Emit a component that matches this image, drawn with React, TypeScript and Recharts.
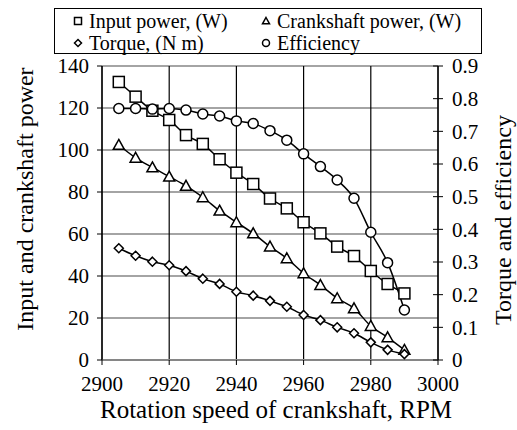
import React from "react";
import { CartesianGrid, Label, Line, LineChart, XAxis, YAxis } from "recharts";

// rotation speed of crankshaft, RPM
const rpm = [2905, 2910, 2915, 2920, 2925, 2930, 2935, 2940, 2945, 2950, 2955, 2960, 2965, 2970, 2975, 2980, 2985, 2990];
// left axis, W
const inputPower = [132.4, 125.4, 118.7, 114.3, 107.1, 102.9, 95.6, 89.2, 83.8, 76.9, 72.2, 65.6, 60.3, 54.0, 49.5, 42.4, 36.2, 31.7];
const crankPower = [102.4, 96.3, 91.7, 87.3, 82.9, 77.5, 71.1, 65.6, 60.3, 54.0, 48.4, 41.3, 35.7, 29.4, 24.6, 16.2, 10.8, 4.8];
// right axis
const torque = [0.342, 0.319, 0.301, 0.29, 0.272, 0.249, 0.233, 0.209, 0.197, 0.181, 0.163, 0.138, 0.122, 0.1, 0.082, 0.054, 0.031, 0.018];
const efficiency = [0.77, 0.77, 0.768, 0.77, 0.765, 0.753, 0.747, 0.732, 0.724, 0.702, 0.673, 0.631, 0.592, 0.551, 0.495, 0.391, 0.298, 0.153];

const xTicks = [2900, 2920, 2940, 2960, 2980, 3000];
const leftTicks = [0, 20, 40, 60, 80, 100, 120, 140];
const rightTicks = [0, 0.1, 0.2, 0.3, 0.4, 0.5, 0.6, 0.7, 0.8, 0.9];

const legendItems = [
  { name: "Input power, (W)", shape: "square" },
  { name: "Crankshaft power, (W)", shape: "triangle" },
  { name: "Torque, (N m)", shape: "diamond" },
  { name: "Efficiency", shape: "circle" },
];

const data = rpm.map((r, i) => ({
  rpm: r,
  inputPower: inputPower[i],
  crankPower: crankPower[i],
  torque: torque[i],
  efficiency: efficiency[i],
}));

const SERIF = "Liberation Serif";
const GRAY = "#868686";

function Marker({ shape, cx, cy, s }: { shape: string; cx: number; cy: number; s: number }) {
  const common = { fill: "#fff", stroke: "#000", strokeWidth: 1.5 };
  if (shape === "square") {
    return <rect x={cx - s} y={cy - s} width={s * 2} height={s * 2} {...common} />;
  }
  if (shape === "triangle") {
    return <polygon points={`${cx},${cy - s} ${cx + s},${cy + s * 0.8} ${cx - s},${cy + s * 0.8}`} {...common} />;
  }
  if (shape === "diamond") {
    return <polygon points={`${cx},${cy - s} ${cx + s},${cy} ${cx},${cy + s} ${cx - s},${cy}`} {...common} />;
  }
  return <circle cx={cx} cy={cy} r={s} {...common} />;
}

const makeDot = (shape: string, s: number) => (p: any) =>
  <Marker key={`${shape}-${p.index}`} shape={shape} cx={p.cx} cy={p.cy} s={s} />;

function RightTick({ x = 0, y = 0, payload }: any) {
  const axisX = x - 14;
  return (
    <g>
      <line x1={axisX - 5} x2={axisX + 5} y1={y} y2={y} stroke="#000" strokeWidth={1} />
      <text x={x} y={y} dy="0.35em" textAnchor="start" fontFamily={SERIF} fontSize={21} fill="#000">
        {payload.value}
      </text>
    </g>
  );
}

function ChartLegend() {
  return (
    <div
      style={{
        position: "absolute",
        left: 54,
        top: 8,
        width: 428,
        height: 46,
        border: "1px solid #000",
        display: "grid",
        gridTemplateColumns: "188px 1fr",
        paddingLeft: 18,
        paddingTop: 1,
        boxSizing: "border-box",
        fontFamily: SERIF,
        fontSize: 20,
        lineHeight: "22px",
        color: "#000",
      }}
    >
      {legendItems.map((it) => (
        <div key={it.name} style={{ display: "flex", alignItems: "center", whiteSpace: "nowrap" }}>
          <svg width={10} height={10} style={{ marginRight: 6 }}>
            <Marker shape={it.shape} cx={5} cy={5} s={3.5} />
          </svg>
          {it.name}
        </div>
      ))}
    </div>
  );
}

export default function App() {
  return (
    <div style={{ position: "absolute", left: 0, top: 0, width: 517, height: 430, background: "#fff" }}>
      <LineChart width={517} height={430} data={data} margin={{ top: 66, right: 0, bottom: 0, left: 0 }}>
        <CartesianGrid yAxisId="left" vertical={false} stroke={GRAY} strokeWidth={1.3} />
        <CartesianGrid yAxisId="left" horizontal={false} stroke="#000" strokeWidth={1.2} />
        <XAxis
          dataKey="rpm"
          type="number"
          domain={[2900, 3000]}
          ticks={xTicks}
          height={70}
          axisLine={{ stroke: GRAY, strokeWidth: 2 }}
          tickLine={{ stroke: "#000" }}
          tickSize={5}
          tickMargin={11}
          tick={{ fill: "#000", fontFamily: SERIF, fontSize: 21 }}
        >
          <Label
            value="Rotation speed of crankshaft, RPM"
            position="insideBottom"
            offset={12}
            dx={6}
            style={{ fill: "#000", fontFamily: SERIF, fontSize: 25 }}
          />
        </XAxis>
        <YAxis
          yAxisId="left"
          domain={[0, 140]}
          ticks={leftTicks}
          width={102}
          axisLine={{ stroke: "#000", strokeWidth: 1.2 }}
          tickLine={{ stroke: "#000" }}
          tickSize={5}
          tickMargin={8}
          tick={{ fill: "#000", fontFamily: SERIF, fontSize: 21 }}
        >
          <Label
            content={() => (
              <text
                x={33}
                y={199}
                transform="rotate(-90 33 199)"
                textAnchor="middle"
                fontFamily={SERIF}
                fontSize={24}
                fill="#000"
              >
                Input and crankshaft power
              </text>
            )}
          />
        </YAxis>
        <YAxis
          yAxisId="right"
          orientation="right"
          domain={[0, 0.9]}
          ticks={rightTicks}
          width={79}
          axisLine={{ stroke: "#000", strokeWidth: 1.2 }}
          tickLine={false}
          tickSize={5}
          tickMargin={9}
          tick={<RightTick />}
        >
          <Label
            content={() => (
              <text
                x={511}
                y={220}
                transform="rotate(-90 511 220)"
                textAnchor="middle"
                fontFamily={SERIF}
                fontSize={24}
                fill="#000"
              >
                Torque and efficiency
              </text>
            )}
          />
        </YAxis>
        <Line yAxisId="left" type="monotone" dataKey="inputPower" stroke="#000" strokeWidth={1.5} dot={makeDot("square", 5.5)} isAnimationActive={false} />
        <Line yAxisId="left" type="monotone" dataKey="crankPower" stroke="#000" strokeWidth={1.5} dot={makeDot("triangle", 5.5)} isAnimationActive={false} />
        <Line yAxisId="right" type="monotone" dataKey="torque" stroke="#000" strokeWidth={1.5} dot={makeDot("diamond", 4.5)} isAnimationActive={false} />
        <Line yAxisId="right" type="monotone" dataKey="efficiency" stroke="#000" strokeWidth={1.5} dot={makeDot("circle", 5)} isAnimationActive={false} />
      </LineChart>
      <ChartLegend />
    </div>
  );
}
